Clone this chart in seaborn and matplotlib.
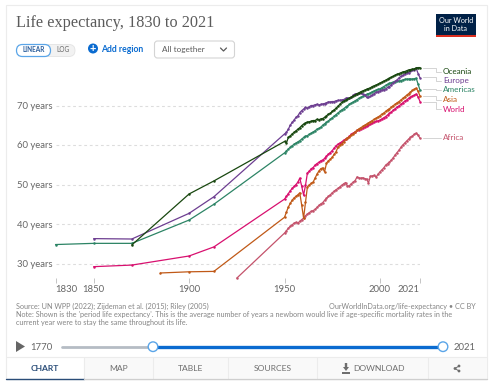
import numpy as np
import pandas as pd
import seaborn as sns
import matplotlib
matplotlib.use("Agg")
import matplotlib.pyplot as plt
from matplotlib.patches import Rectangle, Circle, FancyBboxPatch, Polygon

title = "Life expectancy, 1830 to 2021"
regions = ["Africa", "World", "Asia", "Americas", "Europe", "Oceania"]
colors = ["#C4526B", "#D8106F", "#C05917", "#2C8465", "#6D3E91", "#18470F"]
x_ticks = [1830, 1850, 1900, 1950, 2000, 2021]
y_ticks = [30, 40, 50, 60, 70]

# annual values 1950-2021, older years are sparse
years_annual = np.arange(1950, 2022)
africa_old_years = [1925]
africa_old = [26.3]
africa = [37.7, 38.3, 38.9, 39.4, 39.8, 40.2, 40.4, 40.2, 40.7, 41.1,
          41.5, 42.1, 42.5, 42.9, 43.2, 43.4, 43.7, 44.2, 44.7, 45.1,
          45.4, 46.0, 46.5, 47.0, 47.4, 47.9, 48.3, 48.7, 49.0, 49.4,
          49.8, 50.2, 50.5, 49.6, 49.7, 50.2, 50.6, 51.0, 51.9, 51.7,
          51.6, 51.7, 51.5, 51.4, 50.4, 52.1, 52.2, 52.3, 51.9, 52.6,
          53.2, 53.7, 54.2, 54.9, 55.3, 55.7, 56.2, 56.8, 57.5, 58.1,
          58.7, 59.4, 60.0, 60.5, 61.0, 61.5, 61.9, 62.3, 62.7, 63.0,
          62.5, 61.7]
world_old_years = [1850, 1870, 1900, 1913]
world_old = [29.2, 29.6, 31.9, 34.2]
world = [46.3, 47.0, 47.7, 48.4, 49.0, 49.5, 50.0, 50.6, 51.6, 49.6,
         47.3, 49.8, 52.9, 53.4, 54.0, 54.3, 54.9, 55.3, 55.6, 56.0,
         56.2, 56.6, 57.2, 57.7, 58.1, 58.6, 59.2, 59.8, 60.2, 60.5,
         60.8, 61.2, 61.5, 61.8, 62.2, 62.7, 63.0, 63.3, 63.7, 63.9,
         64.1, 64.3, 64.5, 64.7, 65.0, 65.2, 65.5, 65.8, 66.0, 66.1,
         66.3, 66.6, 66.9, 67.2, 67.6, 68.0, 68.4, 68.8, 69.2, 69.6,
         69.9, 70.3, 70.7, 71.1, 71.4, 71.8, 72.1, 72.4, 72.6, 72.9,
         72.2, 71.0]
asia_old_years = [1885, 1900, 1913]
asia_old = [27.6, 27.9, 28.0]
asia = [41.7, 43.0, 44.3, 45.2, 46.0, 46.6, 47.0, 47.4, 47.9, 44.8,
        41.5, 45.5, 49.4, 49.9, 50.3, 50.6, 51.6, 52.6, 53.4, 54.0,
        54.2, 53.2, 55.4, 56.0, 56.4, 56.9, 57.6, 58.3, 59.4, 59.9,
        60.3, 60.8, 61.4, 61.8, 62.1, 62.5, 62.9, 63.3, 63.7, 64.1,
        64.4, 64.7, 65.0, 65.3, 65.6, 65.9, 66.2, 66.5, 66.8, 67.1,
        67.4, 67.8, 68.1, 68.5, 68.9, 69.2, 69.6, 70.0, 70.3, 70.7,
        71.0, 71.4, 71.8, 72.2, 72.6, 73.0, 73.4, 73.8, 74.1, 74.4,
        73.6, 72.4]
americas_old_years = [1830, 1850, 1870, 1900, 1913]
americas_old = [34.8, 35.1, 35.1, 41.0, 45.0]
americas = [58.0, 58.5, 59.0, 59.4, 59.8, 60.2, 60.5, 60.8, 61.1, 61.5,
            61.9, 62.2, 62.4, 62.7, 63.0, 63.3, 63.6, 64.0, 64.2, 64.5,
            65.0, 65.4, 65.7, 66.1, 66.5, 66.9, 67.3, 67.7, 68.1, 68.5,
            68.9, 69.2, 69.6, 69.9, 70.3, 70.6, 70.9, 71.2, 71.5, 71.8,
            72.1, 72.3, 72.6, 72.8, 73.0, 73.2, 73.5, 73.7, 73.9, 74.1,
            74.2, 74.5, 74.8, 75.1, 75.4, 75.6, 75.8, 75.9, 76.0, 76.1,
            76.2, 76.3, 76.5, 76.6, 76.7, 76.7, 76.7, 76.7, 76.8, 76.9,
            75.4, 73.9]
europe_old_years = [1850, 1870, 1900, 1913]
europe_old = [36.3, 36.2, 42.7, 46.9]
europe = [62.8, 63.2, 64.0, 65.0, 65.7, 66.3, 67.0, 67.4, 68.2, 68.7,
          69.1, 69.5, 69.3, 69.7, 70.0, 70.0, 70.2, 70.3, 70.1, 70.3,
          70.4, 70.5, 70.7, 70.9, 70.9, 71.0, 71.0, 71.2, 71.3, 71.3,
          71.4, 71.5, 71.8, 71.8, 71.9, 72.1, 72.6, 72.9, 73.0, 73.1,
          73.1, 72.9, 72.6, 72.1, 72.1, 72.3, 72.7, 73.0, 73.3, 73.5,
          73.7, 73.9, 74.0, 74.2, 74.6, 74.8, 75.3, 75.7, 76.1, 76.5,
          77.0, 77.4, 77.6, 78.0, 78.3, 78.3, 78.7, 78.9, 79.1, 79.4,
          78.1, 77.0]
oceania_old_years = [1870, 1900, 1913]
oceania_old = [34.7, 47.6, 50.9]
oceania = [60.9, 60.5, 61.9, 62.3, 62.8, 63.2, 63.6, 64.0, 64.4, 64.9,
           65.3, 65.6, 65.8, 65.9, 66.0, 66.2, 66.2, 66.5, 66.4, 66.6,
           66.7, 67.0, 67.4, 67.8, 68.0, 68.5, 68.9, 69.3, 69.8, 70.3,
           70.8, 71.1, 71.4, 71.6, 71.9, 72.1, 72.4, 72.7, 73.0, 73.2,
           73.5, 73.7, 73.9, 74.1, 74.3, 74.5, 74.8, 75.0, 75.2, 75.4,
           75.7, 75.9, 76.2, 76.4, 76.7, 76.9, 77.2, 77.4, 77.7, 77.9,
           78.1, 78.3, 78.5, 78.6, 78.8, 79.0, 79.1, 79.2, 79.3, 79.5,
           79.6, 79.6]

frames = []
for name, oy, ov, v in [("Africa", africa_old_years, africa_old, africa),
                        ("World", world_old_years, world_old, world),
                        ("Asia", asia_old_years, asia_old, asia),
                        ("Americas", americas_old_years, americas_old, americas),
                        ("Europe", europe_old_years, europe_old, europe),
                        ("Oceania", oceania_old_years, oceania_old, oceania)]:
    frames.append(pd.DataFrame({"Region": name,
                                "Year": list(oy) + list(years_annual),
                                "Life": list(ov) + list(v)}))
df = pd.concat(frames, ignore_index=True)

sns.set_theme(style="white")
plt.rcParams["font.family"] = ["Lato", "DejaVu Sans"]

W, H = 493, 386
fig = plt.figure(figsize=(W / 100, H / 100), dpi=100, facecolor="white")

# page furniture, in pixel coordinates
bg = fig.add_axes([0, 0, 1, 1], zorder=0)
bg.set_xlim(0, W)
bg.set_ylim(H, 0)
bg.axis("off")
bg.add_patch(Rectangle((6, 5), 481, 374, fc="white", ec="#ececec", lw=0.8))

GREY = "#5b5b5b"
bg.text(16, 23, title, fontsize=11.7, color=GREY, family="Liberation Serif", va="center")

# logo
bg.add_patch(Rectangle((436, 14), 40, 23, fc="#002147", ec="none"))
bg.add_patch(Rectangle((436, 35), 40, 2, fc="#DC2E1F", ec="none"))
bg.text(456, 24.5, "Our World\nin Data", color="white", fontsize=5.2, ha="center",
        va="center", linespacing=1.1)

# controls
bg.add_patch(FancyBboxPatch((40, 44.5), 35, 12, boxstyle="round,pad=0,rounding_size=6",
                            fc="#f2f2f2", ec="#e3e3e3", lw=0.6))
bg.add_patch(FancyBboxPatch((16.5, 44.5), 34, 12, boxstyle="round,pad=0,rounding_size=6",
                            fc="white", ec="#5aa5e8", lw=0.9))
bg.text(33.5, 50, "LINEAR", fontsize=4.7, color="#2a5d9c", ha="center", va="center", weight="bold")
bg.text(63, 50, "LOG", fontsize=4.7, color="#666666", ha="center", va="center")
bg.add_patch(Circle((93, 48.5), 5, fc="#0a6bd0", ec="none"))
bg.text(93, 48.2, "+", fontsize=8, color="white", ha="center", va="center", weight="bold")
bg.text(101, 49.5, "Add region", fontsize=6.2, color="#0a6bd0", va="center", weight="bold")
bg.add_patch(FancyBboxPatch((154.5, 41), 80, 17, boxstyle="round,pad=0,rounding_size=3",
                            fc="white", ec="#d4d4d4", lw=0.8))
bg.text(162, 49.5, "All together", fontsize=5.9, color="#5b5b5b", va="center")
bg.plot([220.5, 223.5, 226.5], [48, 51, 48], color="#5b5b5b", lw=0.9)

# series labels with connectors
label_y = [138, 109, 100, 90, 81, 72]
end_y = [138, 101.7, 96, 89, 77, 68]
for name, col, ly, ey in zip(regions, colors, label_y, end_y):
    bg.plot([423, 436, 436, 441], [ey, ey, ly, ly], color="#d4d4d4", lw=0.7)
    bg.text(443, ly, name, fontsize=5.9, color=col, va="center")

# footer
FOOT = "#858585"
bg.text(16, 306, "Source: UN WPP (2022); Zijdeman et al. (2015); Riley (2005)", fontsize=5.2, color=FOOT, va="center")
bg.text(476, 306, "OurWorldInData.org/life-expectancy • CC BY", fontsize=5.2, color=FOOT, va="center", ha="right")
bg.text(16, 315, "Note: Shown is the 'period life expectancy'. This is the average number of years a newborn would live if age-specific mortality rates in the",
        fontsize=5.2, color=FOOT, va="center")
bg.text(16, 323, "current year were to stay the same throughout its life.", fontsize=5.2, color=FOOT, va="center")

# time slider
bg.add_patch(Polygon([(16, 341), (16, 352), (25, 346.5)], fc="#666666", ec="none"))
bg.text(30, 347, "1770", fontsize=6.9, color="#666666", va="center")
bg.text(454, 347, "2021", fontsize=6.9, color="#666666", va="center")
bg.plot([62, 153], [346.7, 346.7], color="#b5bcc4", lw=2, solid_capstyle="round")
bg.plot([153, 443], [346.7, 346.7], color="#0a6bd0", lw=2.4)
for hx in (153, 443):
    bg.add_patch(Circle((hx, 346.7), 4.8, fc="white", ec="#5aa5e8", lw=1, zorder=5))

# tabs
bg.add_patch(Rectangle((84, 357), 403, 21, fc="#f9f9f9", ec="none"))
bg.plot([6, 487], [357, 357], color="#ececec", lw=0.8)
for tx in (84, 153, 228, 317, 428):
    bg.plot([tx, tx], [357, 378], color="#ececec", lw=0.8)
bg.plot([6, 84], [378.5, 378.5], color="#2a4d78", lw=1)
bg.plot([84, 487], [379, 379], color="#cfcfcf", lw=1)
bg.text(45, 368.5, "CHART", fontsize=6.1, color="#2a4d78", ha="center", va="center", weight="bold")
bg.text(119, 368.5, "MAP", fontsize=6.1, color="#6e6e6e", ha="center", va="center")
bg.text(190.5, 368.5, "TABLE", fontsize=6.1, color="#6e6e6e", ha="center", va="center")
bg.text(272.5, 368.5, "SOURCES", fontsize=6.1, color="#6e6e6e", ha="center", va="center")
bg.text(353, 368.5, "DOWNLOAD", fontsize=6.1, color="#6e6e6e", va="center")
bg.add_patch(Rectangle((342, 372), 8, 1.8, fc="#6e6e6e", ec="none"))
bg.add_patch(Polygon([(344.8, 363), (347.2, 363), (347.2, 367), (349, 367), (346, 371), (343, 367), (344.8, 367)],
                     fc="#6e6e6e", ec="none"))
bg.plot([459, 455, 459], [366, 368.5, 371], color="#6e6e6e", lw=0.7)
for cx, cy in [(459, 366), (455, 368.5), (459, 371)]:
    bg.add_patch(Circle((cx, cy), 1.4, fc="#6e6e6e", ec="none"))

# plot area: 1830 at x=55.5px, 2021 at x=420px, 70 at y=105.5px, 3.95px per year of life
left, right, top, bottom = 55.5, 420, 60, 278
ax = fig.add_axes([left / W, 1 - bottom / H, (right - left) / W, (bottom - top) / H], zorder=1)
ax.patch.set_alpha(0)
sns.lineplot(data=df, x="Year", y="Life", hue="Region", hue_order=regions,
             palette=colors, estimator=None, sort=True, legend=False, ax=ax,
             marker="o", markersize=1.8, markeredgewidth=0, linewidth=0.9, clip_on=False)
ax.set_xlim(1830, 2021)
ax.set_ylim(70 - (bottom - 105.5) / 3.95, 70 + (105.5 - top) / 3.95)
ax.set_xlabel("")
ax.set_ylabel("")
sns.despine(ax=ax, left=True, bottom=True, top=True, right=True)

ax.set_yticks(y_ticks)
ax.set_yticklabels([f"{v} years" for v in y_ticks], ha="left")
ax.tick_params(axis="y", length=0, pad=(left - 17) * 0.72, labelsize=6.8, labelcolor="#666666")
ax.grid(axis="y", color="#dddddd", lw=0.8, ls=(0, (2.5, 2.5)))
ax.set_axisbelow(True)

ax.set_xticks(x_ticks)
ax.set_xticklabels([str(v) for v in x_ticks])
ax.tick_params(axis="x", length=3.6, width=0.6, color="#bbbbbb", pad=1.6, labelsize=6.8,
               labelcolor="#666666", bottom=True)
xlabels = ax.get_xticklabels()
xlabels[0].set_ha("left")
xlabels[-1].set_ha("right")

fig.savefig("out.png", dpi=100)
